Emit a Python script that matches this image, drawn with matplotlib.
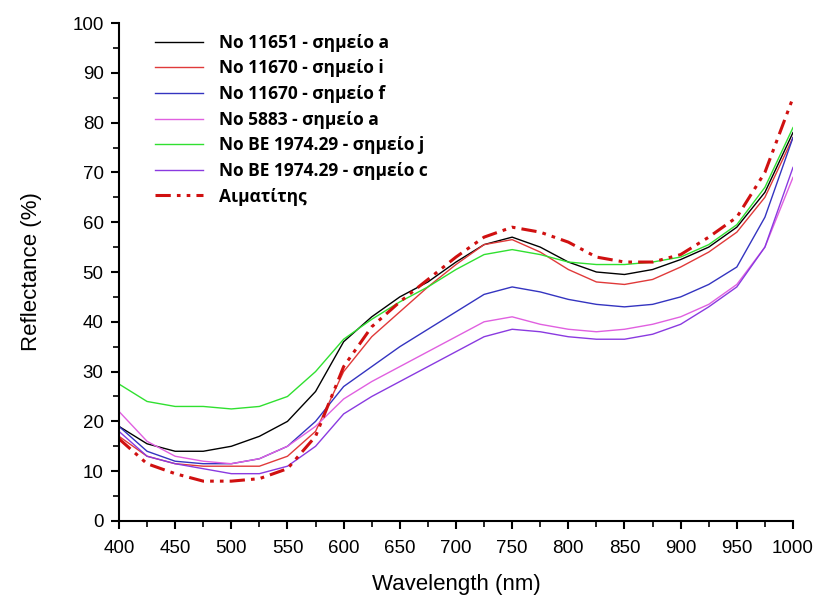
import matplotlib.pyplot as plt
import numpy as np
from matplotlib.ticker import MultipleLocator

wl = [400, 425, 450, 475, 500, 525, 550, 575, 600, 625, 650, 675, 700,
      725, 750, 775, 800, 825, 850, 875, 900, 925, 950, 975, 1000]

r_11651_a = [19, 15.5, 14, 14, 15, 17, 20, 26, 36, 41, 45, 48, 52,
             55.5, 57, 55, 52, 50, 49.5, 50.5, 52.5, 55, 59, 66, 78]
r_11670_i = [17, 13, 11.5, 11, 11, 11, 13, 18, 30, 37, 42, 47, 51.5,
             55.5, 56.5, 54, 50.5, 48, 47.5, 48.5, 51, 54, 58, 65, 77]
r_11670_f = [19, 14, 12, 11.5, 11.5, 12.5, 15, 20, 27, 31, 35, 38.5, 42,
             45.5, 47, 46, 44.5, 43.5, 43, 43.5, 45, 47.5, 51, 61, 77]
r_5883_a = [22, 16, 13, 12, 11.5, 12.5, 15, 19, 24.5, 28, 31, 34, 37,
            40, 41, 39.5, 38.5, 38, 38.5, 39.5, 41, 43.5, 47.5, 55, 69]
r_be_j = [27.5, 24, 23, 23, 22.5, 23, 25, 30, 36.5, 40.5, 44, 47, 50.5,
          53.5, 54.5, 53.5, 52, 51.5, 51.5, 52, 53, 55.5, 59.5, 67, 79]
r_be_c = [18, 13, 11.5, 10.5, 9.5, 9.5, 11, 15, 21.5, 25, 28, 31, 34,
          37, 38.5, 38, 37, 36.5, 36.5, 37.5, 39.5, 43, 47, 55, 71]
r_hematite = [16.5, 11.5, 9.5, 8, 8, 8.5, 10.5, 17, 31, 39, 44, 48.5, 53,
              57, 59, 58, 56, 53, 52, 52, 53.5, 57, 61, 70, 85]

series = [
    ("No 11651 - σημείο a", r_11651_a, "black"),
    ("No 11670 - σημείο i", r_11670_i, "#e03a3a"),
    ("No 11670 - σημείο f", r_11670_f, "#3434c0"),
    ("No 5883 - σημείο a", r_5883_a, "#e060e0"),
    ("No BE 1974.29 - σημείο j", r_be_j, "#30e030"),
    ("No BE 1974.29 - σημείο c", r_be_c, "#8a3ae0"),
]

fig = plt.figure(figsize=(8.16, 5.98), dpi=100)
ax = fig.add_axes([0.1458, 0.1288, 0.826, 0.8327])

for label, vals, col in series:
    ax.plot(wl, vals, color=col, lw=1.0, label=label)
ax.plot(wl, r_hematite, color="#d01010", lw=2.2,
        linestyle=(0, (5, 2, 1.2, 2, 1.2, 2)), label="Αιματίτης")

ax.set_xlim(400, 1000)
ax.set_ylim(0, 100)
ax.xaxis.set_major_locator(MultipleLocator(50))
ax.xaxis.set_minor_locator(MultipleLocator(25))
ax.yaxis.set_major_locator(MultipleLocator(10))
ax.yaxis.set_minor_locator(MultipleLocator(5))
for s in ["top", "right"]:
    ax.spines[s].set_visible(False)
for s in ["left", "bottom"]:
    ax.spines[s].set_linewidth(1.5)
ax.tick_params(which="major", direction="out", length=6, width=1.5,
               labelsize=13.5)
ax.tick_params(axis="x", which="major", pad=8)
ax.tick_params(axis="y", which="major", pad=5)
ax.tick_params(which="minor", direction="out", length=4, width=1.2)
for t in ax.get_xticklabels() + ax.get_yticklabels():
    t.set_fontfamily("Liberation Sans")

ax.set_xlabel("Wavelength (nm)", fontsize=16, family="Liberation Sans", labelpad=12)
ax.set_ylabel("Reflectance (%)", fontsize=16, family="Liberation Sans", labelpad=22)

leg = ax.legend(loc="upper left", bbox_to_anchor=(0.03, 1.01), frameon=False,
                prop={"family": "Open Sans", "weight": "bold", "size": 12.5},
                handlelength=2.8, handletextpad=0.9, labelspacing=0.44)

plt.savefig("out.png", dpi=100)
